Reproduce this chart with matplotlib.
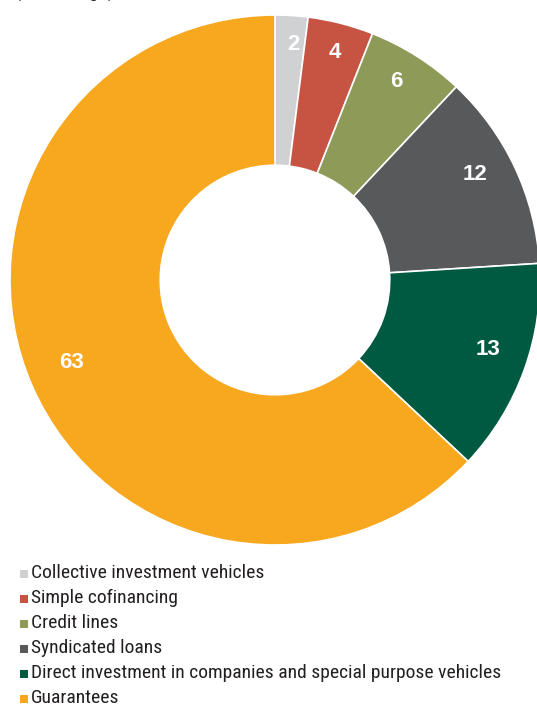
import matplotlib.pyplot as plt
from matplotlib import font_manager
from matplotlib.patches import Rectangle
import numpy as np

categories = ["Collective investment vehicles", "Simple cofinancing", "Credit lines",
              "Syndicated loans", "Direct investment in companies and special purpose vehicles",
              "Guarantees"]
values = [2, 4, 6, 12, 13, 63]
colors = ["#D0D1D3", "#C75343", "#8E9A58", "#58595B", "#005A42", "#F7A81E"]

# pick a narrow face if the system has one
names = {f.name for f in font_manager.fontManager.ttflist}
narrow = None
for cand in ["Liberation Sans Narrow", "Roboto Condensed", "DejaVu Sans Condensed",
             "Open Sans Condensed", "Noto Sans Condensed", "Arial Narrow"]:
    if cand in names:
        narrow = dict(family=cand)
        break
if narrow is None:
    cond = [f for f in font_manager.fontManager.ttflist
            if f.stretch in ("condensed", "semi-condensed") and f.style == "normal"]
    if cond:
        narrow = dict(family=cond[0].name, stretch=cond[0].stretch)
    else:
        narrow = dict(family="Liberation Sans")

W, H = 537, 706
fig = plt.figure(figsize=(W / 100, H / 100), dpi=100)

# pie: centre (275, 280) px, outer radius 265 px
cx, cy, R = 275, 280, 265
ax = fig.add_axes([(cx - R) / W, (H - cy - R) / H, 2 * R / W, 2 * R / H])
wedges, _ = ax.pie(values, colors=colors, startangle=90, counterclock=False,
                   radius=1, wedgeprops=dict(width=0.567, edgecolor="white", linewidth=1.2))
ax.set_xlim(-1, 1)
ax.set_ylim(-1, 1)
ax.set_aspect("equal")
ax.axis("off")

# value labels: radius (x outer radius) and small angle nudge in degrees
label_r = [0.89, 0.887, 0.878, 0.853, 0.845, 0.83]
label_dt = [-0.8, -0.4, 0.9, 2.5, 1.6, -1.4]
for w, v, r, dt in zip(wedges, values, label_r, label_dt):
    ang = np.deg2rad((w.theta1 + w.theta2) / 2 + dt)
    ax.text(r * np.cos(ang), r * np.sin(ang), str(v), ha="center", va="center",
            color="white", fontsize=16, fontweight="bold", family="Liberation Sans")

# legend text size: fit the longest entry to ~490 px
fp = font_manager.FontProperties(size=14, **narrow)
renderer = fig.canvas.get_renderer()
probe = fig.text(0, 0, categories[4], fontproperties=fp)
wpx = probe.get_window_extent(renderer).width
probe.remove()
fp.set_size(min(14.0, 14.0 * 490 / wpx))

# cut-off subtitle at the very top
fig.text(15 / W, 1 + 2.5 / H, "(Percentage)", ha="left", va="baseline",
         fontproperties=fp, color="#231F20")

# legend rows, 25 px apart
row_y = 573
for c, lab in zip(colors, categories):
    fig.patches.append(Rectangle((20 / W, 1 - (row_y + 5) / H), 8 / W, 8 / H,
                                 transform=fig.transFigure, facecolor=c, edgecolor="none"))
    fig.text(31 / W, 1 - row_y / H, lab, ha="left", va="center",
             fontproperties=fp, color="#231F20")
    row_y += 25

fig.savefig("out.png", dpi=100)
